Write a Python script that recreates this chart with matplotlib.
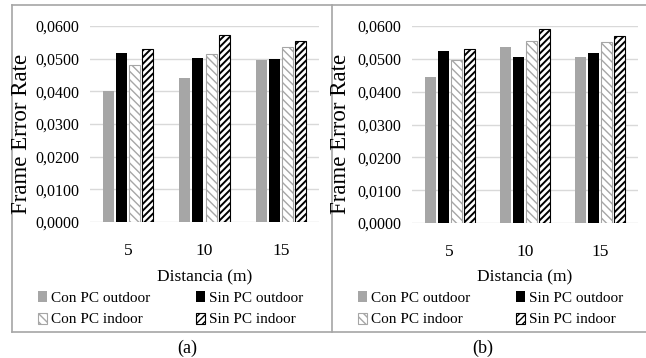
import matplotlib
matplotlib.use("Agg")
import matplotlib.pyplot as plt
from matplotlib.patches import Patch
from matplotlib.lines import Line2D
import numpy as np

plt.rcParams['font.family'] = ['Liberation Serif', 'DejaVu Serif']
plt.rcParams['hatch.linewidth'] = 1.0

distances = ["5", "10", "15"]
series = ["Con PC outdoor", "Sin PC outdoor", "Con PC indoor", "Sin PC indoor"]

a_con_out = [0.0402, 0.0440, 0.0496]
a_sin_out = [0.0516, 0.0501, 0.0498]
a_con_in = [0.0481, 0.0514, 0.0537]
a_sin_in = [0.0529, 0.0572, 0.0553]

b_con_out = [0.0446, 0.0535, 0.0507]
b_sin_out = [0.0524, 0.0507, 0.0517]
b_con_in = [0.0496, 0.0554, 0.0551]
b_sin_in = [0.0529, 0.0590, 0.0570]

yticks = [0.0, 0.01, 0.02, 0.03, 0.04, 0.05, 0.06]
ytick_labels = ["0,0000", "0,0100", "0,0200", "0,0300", "0,0400", "0,0500", "0,0600"]

W, H = 646, 358
fig = plt.figure(figsize=(W / 100, H / 100), dpi=100)

styles = [
    dict(facecolor="#a6a6a6", edgecolor="#a6a6a6", linewidth=0.0),
    dict(facecolor="black", edgecolor="black", linewidth=0.0),
    dict(facecolor="white", edgecolor="#a6a6a6", hatch="\\\\\\\\", linewidth=0.8),
    dict(facecolor="white", edgecolor="black", hatch="/////", linewidth=0.8),
]
hatch_lw = [1.0, 1.0, 1.0, 1.4]


def fx(px):
    return px / W


def fy(py):
    return 1 - py / H


def draw_panel(left_px, right_px, top_px, bottom_px, data, label_x, panel_label, panel_cx, legend_x):
    ax = fig.add_axes([fx(left_px), fy(bottom_px), (right_px - left_px) / W, (bottom_px - top_px) / H])
    x = np.arange(len(distances))
    step = 0.172
    width = 0.145
    for i, (vals, st) in enumerate(zip(data, styles)):
        with plt.rc_context({'hatch.linewidth': hatch_lw[i]}):
            ax.bar(x + (i - 1.5) * step, vals, width=width, zorder=3, **st)
    ax.set_xlim(-0.5, 2.5)
    ax.set_ylim(0, 0.06)
    ax.set_yticks(yticks)
    ax.set_yticklabels(ytick_labels, fontsize=11.5)
    ax.set_xticks(x)
    ax.set_xticklabels(distances, fontsize=12.5)
    ax.tick_params(length=0)
    ax.tick_params(axis='y', pad=8)
    ax.tick_params(axis='x', pad=15)
    ax.grid(axis='y', color="#d9d9d9", linewidth=1.0, zorder=0)
    for s in ax.spines.values():
        s.set_visible(False)
    ax.set_axisbelow(True)
    cx = (left_px + right_px) / 2
    fig.text(fx(cx), fy(277), "Distancia (m)", ha="center", va="center", fontsize=12.5)
    fig.text(fx(label_x), fy(134), "Frame Error Rate", rotation=90, ha="center", va="center", fontsize=16.5)
    fig.text(fx(panel_cx), fy(348), panel_label, ha="center", va="center", fontsize=13)
    handles = []
    for i in [0, 2, 1, 3]:
        with plt.rc_context({'hatch.linewidth': hatch_lw[i]}):
            handles.append(Patch(**styles[i]))
    labels = [series[0], series[2], series[1], series[3]]
    fig.legend(handles, labels, ncol=2, loc="upper left",
               bbox_to_anchor=(fx(legend_x), fy(291)), frameon=False, fontsize=11,
               handlelength=0.6, handleheight=0.75, handletextpad=0.25,
               columnspacing=3.0, labelspacing=0.5, borderpad=0, borderaxespad=0)


draw_panel(90, 319, 26, 222, [a_con_out, a_sin_out, a_con_in, a_sin_in], 22, "(a)", 187, 38)
draw_panel(412, 638, 26, 223, [b_con_out, b_sin_out, b_con_in, b_sin_in], 341, "(b)", 483, 358)

border = "#a6a6a6"
for (x0, y0, x1, y1) in [(12, 5, 646, 5), (12, 5, 12, 332), (12, 332, 646, 332), (332, 5, 332, 332)]:
    fig.add_artist(Line2D([fx(x0), fx(x1)], [fy(y0), fy(y1)], color=border, linewidth=1.2,
                          transform=fig.transFigure))

fig.savefig("out.png", dpi=100)
